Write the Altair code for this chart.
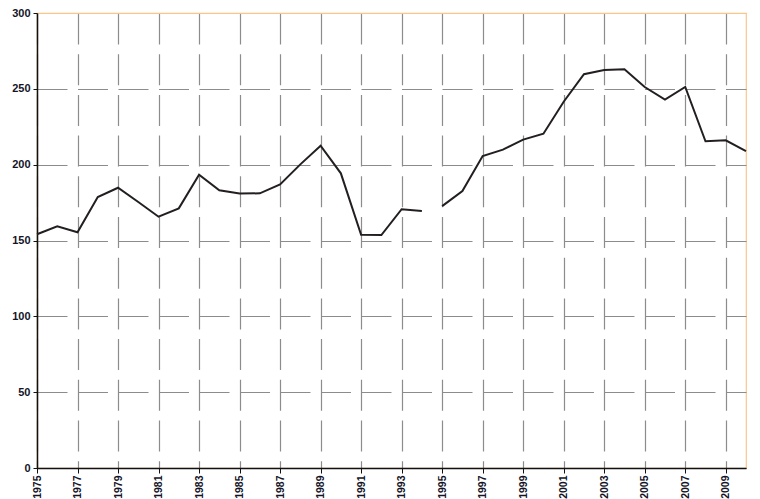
import altair as alt
import pandas as pd

years_a = list(range(1975, 1995))
values_a = [154.1, 159.3, 155.4, 178.7, 184.8, 175.4, 165.7, 171.2, 193.4, 183.1,
            181.0, 181.1, 187.0, 200.2, 212.5, 194.3, 153.8, 153.6, 170.6, 169.4]
years_b = list(range(1995, 2011))
values_b = [172.7, 182.6, 205.7, 209.9, 216.5, 220.4, 241.5, 259.6, 262.4, 262.9,
            251.2, 242.9, 251.2, 215.4, 216.1, 209.0]
x_ticks = list(range(1975, 2010, 2))
y_ticks = [0, 50, 100, 150, 200, 250, 300]

df = pd.DataFrame({
    "year": years_a + years_b,
    "value": values_a + values_b,
    "segment": ["a"] * len(years_a) + ["b"] * len(years_b),
})

orange = "#fcc58a"

chart = alt.Chart(df).mark_line(color="#231f20", strokeWidth=2).encode(
    x=alt.X("year:Q",
            scale=alt.Scale(domain=[1975, 2010], nice=False, zero=False),
            axis=alt.Axis(values=x_ticks, format="d", labelAngle=-90, title=None,
                          grid=True, gridColor="#8c8c8c", gridDash=[31, 9.7],
                          gridWidth=1.2,
                          domainColor="#111", domainWidth=1.5,
                          tickColor="#111", tickSize=5, tickWidth=1,
                          labelFont="Liberation Sans", labelFontWeight="bold",
                          labelFontSize=10.5, labelColor="#141428",
                          labelPadding=2, labelAlign="right", labelBaseline="middle")),
    y=alt.Y("value:Q",
            scale=alt.Scale(domain=[0, 300], nice=False),
            axis=alt.Axis(values=y_ticks, title=None,
                          grid=True,
                          gridColor={"condition": {"test": "datum.value == 300", "value": orange},
                                     "value": "#8c8c8c"},
                          gridDash={"condition": {"test": "datum.value == 300", "value": [1, 0]},
                                    "value": [30, 10.5]},
                          gridWidth=1.2,
                          domainColor="#111", domainWidth=1.5,
                          tickColor="#111", tickSize=4, tickWidth=1,
                          labelFont="Liberation Sans", labelFontWeight="bold",
                          labelFontSize=11, labelColor="#141428", labelPadding=3)),
    detail="segment:N",
).properties(
    width=709,
    height=455,
    autosize=alt.AutoSizeParams(type="none"),
    padding={"left": 29, "top": 5, "right": 6, "bottom": 31},
).configure_view(
    stroke=orange, strokeWidth=1.2
)

chart.save("out.html", embed_options={"renderer": "svg", "actions": False})
